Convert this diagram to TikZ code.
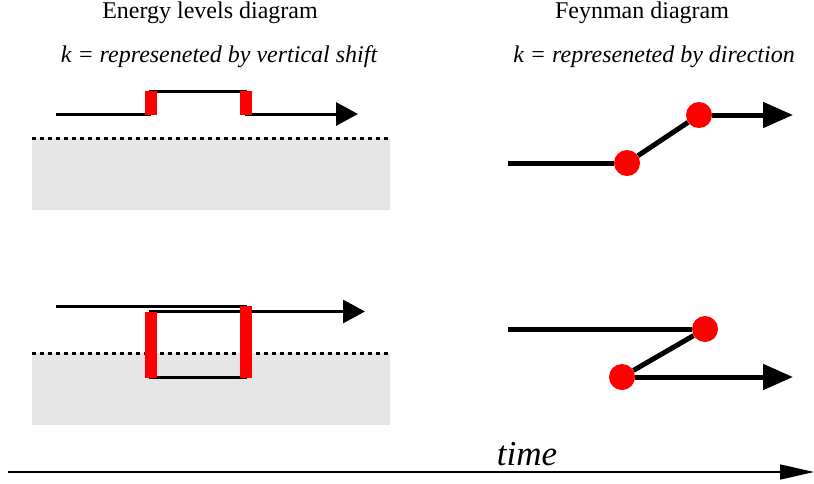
\documentclass[tikz,border=0pt]{standalone}
\usepackage{fontspec}
\setmainfont{Liberation Serif}
\usetikzlibrary{arrows.meta}

\tikzset{
  level/.style={line width=3pt},
  prop/.style={line width=5pt},
  vertex/.style={circle,fill=red,inner sep=0pt,minimum size=26pt},
  fermi/.style={dash pattern=on 4pt off 4pt,line width=3pt},
  label/.style={anchor=base,font=\fontsize{24}{28}\selectfont},
}

\begin{document}
\begin{tikzpicture}[x=1pt,y=-1pt]
          \useasboundingbox (0,0) rectangle (814,483);

          \node[label] (eltitle) at (210,18.5) {Energy levels diagram};
          \node[label] (elsub) at (219,62) {\itshape k = represeneted by vertical shift};
          \node[label] (fdtitle) at (642,18.5) {Feynman diagram};
          \node[label] (fdsub) at (654,62) {\itshape k = represeneted by direction};

          \fill[black!10] (32,138) rectangle (390,210);
          \draw[fermi] (32,138) -- (390,138);
          \coordinate (a1) at (56,114);
          \coordinate (a2) at (151,114);
          \coordinate (a3) at (149,91);
          \coordinate (a4) at (247,91);
          \coordinate (a5) at (245,114);
          \coordinate (a6) at (358,114);
          \draw[level] (a1) -- (a2);
          \draw[level] (a3) -- (a4);
          \draw[level,-{Triangle[length=22pt,width=23pt]}] (a5) -- (a6);
          \fill[red] (145,91) rectangle (157,115);
          \fill[red] (240,91) rectangle (252,115);

          \fill[black!10] (32,353) rectangle (390,425);
          \draw[fermi] (32,353) -- (390,353);
          \coordinate (b1) at (56,306);
          \coordinate (b2) at (247,306);
          \coordinate (b3) at (149,311.5);
          \coordinate (b4) at (365,311.5);
          \coordinate (b5) at (149,377);
          \coordinate (b6) at (247,377);
          \draw[level] (b1) -- (b2);
          \draw[level,-{Triangle[length=22pt,width=23pt]}] (b3) -- (b4);
          \draw[level] (b5) -- (b6);
          \fill[red] (145,312) rectangle (157,378);
          \fill[red] (240,306) rectangle (252,378);

          \coordinate (c1) at (508,163);
          \node[vertex] (v1) at (627,163) {};
          \node[vertex] (v2) at (699,115) {};
          \coordinate (c2) at (793,115);
          \draw[prop] (c1) -- (v1);
          \draw[prop] (v1) -- (v2);
          \draw[prop,-{Triangle[length=30pt,width=25pt]}] (v2) -- (c2);

          \coordinate (d1) at (508,329);
          \node[vertex] (v3) at (705,329) {};
          \node[vertex] (v4) at (622,377) {};
          \coordinate (d2) at (793,377);
          \draw[prop] (d1) -- (v3);
          \draw[prop] (v3) -- (v4);
          \draw[prop,-{Triangle[length=30pt,width=25pt]}] (v4) -- (d2);

          \coordinate (t1) at (8,472);
          \coordinate (t2) at (814,472);
          \draw[line width=1.5pt,-{Triangle[length=34pt,width=15pt]}] (t1) -- (t2);
          \node[anchor=base,font=\fontsize{35}{40}\selectfont\itshape] (time) at (527,465) {time};
        \end{tikzpicture}
\end{document}
